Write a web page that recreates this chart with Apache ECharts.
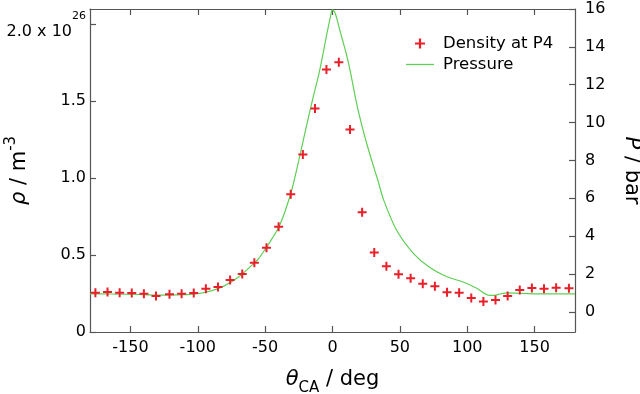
<!DOCTYPE html>
<html>
<head>
<meta charset="utf-8">
<script src="https://cdn.jsdelivr.net/npm/echarts@6/dist/echarts.min.js"></script>
<style>html,body{margin:0;padding:0;background:#fff}#c{width:640px;height:394px}</style>
</head>
<body>
<div id="c"></div>
<script>
// Crank angle of density samples (deg)
var densityAngle = [-176,-167,-158,-149,-140,-131,-121,-112,-103,-94,-85,-76,-67,-58,-49,-40,-31,-22,-13,-4.5,4.7,13,22,31,40,49,58,67,76,85,94,103,112,121,130,139,148,157,166,175.5];
// Density at P4 (x 10^26 m^-3)
var densityValue = [0.255,0.26,0.255,0.253,0.249,0.234,0.245,0.249,0.253,0.281,0.292,0.338,0.377,0.45,0.547,0.684,0.896,1.154,1.453,1.706,1.753,1.316,0.779,0.517,0.427,0.375,0.349,0.314,0.297,0.258,0.255,0.221,0.199,0.208,0.234,0.273,0.286,0.281,0.288,0.284];
// Pressure curve (deg, bar)
var pressureAngle = [-180,-170,-160,-150,-140,-130,-120,-110,-100,-90,-80,-70,-60,-55,-50,-45,-40,-35,-30,-25,-20,-15,-10,-7,-5,-3,-1.5,0,1.5,3,5,7.5,10,12,14,16.5,19,24,29,34,38,47.5,60,72,85,97,107,115.5,120,125,130,140,150,165,180];
var pressureValue = [0.94,0.95,0.93,0.92,0.9,0.88,0.88,0.9,0.95,1.1,1.38,1.82,2.45,2.8,3.3,3.85,4.45,5.35,6.5,8.0,9.6,11.15,12.6,13.65,14.4,15.1,15.6,15.95,15.85,15.55,15.0,14.35,13.7,13.1,12.42,11.5,10.66,9.25,8.02,6.87,5.9,4.32,3.09,2.35,1.85,1.57,1.24,0.88,0.87,0.95,1.0,0.97,0.95,0.94,0.94];
var xTicks = [-150,-100,-50,0,50,100,150];
var leftTicks = [0,0.5,1.0,1.5,2.0];
var rightTicks = [0,2,4,6,8,10,12,14,16];

var FONT = '"DejaVu Sans", Verdana, sans-serif';
var AX = '#555';
var densityData = densityAngle.map(function(a,i){return [a, densityValue[i]];});
var pressureData = pressureAngle.map(function(a,i){return [a, pressureValue[i]];});
var plus = 'path://M3.5,0H5.5V3.5H9V5.5H5.5V9H3.5V5.5H0V3.5H3.5Z';
var dash = 'path://M0,0H28V1.3H0Z';

var chart = echarts.init(document.getElementById('c'), null, {renderer:'canvas'});
function tick(vals){return {show:true,inside:true,length:6,lineStyle:{color:AX,width:1.2},customValues:vals};}
var line = {show:true,onZero:false,lineStyle:{color:AX,width:1.2}};
var TS = 21;
chart.setOption({
  animation:false,
  backgroundColor:'#fff',
  textStyle:{fontFamily:FONT},
  grid:{left:90,right:65,top:9,bottom:62,containLabel:false,outerBoundsMode:'none'},
  legend:{
    orient:'vertical', left:401, top:30, itemWidth:28, itemHeight:10, itemGap:4,
    textStyle:{fontSize:16.5,color:'#000',fontFamily:FONT,padding:[0,0,0,4]},
    data:[{name:'Density at P4',icon:plus},{name:'Pressure',icon:dash}]
  },
  xAxis:[
    {
      type:'value', min:-180, max:180, position:'bottom',
      axisLine:line, splitLine:{show:false}, axisTick:tick(xTicks),
      axisLabel:{customValues:xTicks,color:'#000',fontSize:16,margin:8,fontFamily:FONT},
      name:'{i|θ}{sub|CA} / deg', nameLocation:'middle', nameGap:32, nameMoveOverlap:false,
      nameTextStyle:{fontSize:TS,color:'#000',fontFamily:FONT,
        rich:{i:{fontStyle:'italic',fontSize:TS,color:'#000',fontFamily:FONT,lineHeight:22,verticalAlign:'middle'},
              sub:{fontSize:15,color:'#000',fontFamily:FONT,lineHeight:32,verticalAlign:'bottom'}}}
    },
    {
      type:'value', min:-180, max:180, position:'top',
      axisLine:line, splitLine:{show:false}, axisTick:tick(xTicks),
      axisLabel:{show:false}
    }
  ],
  yAxis:[
    {
      type:'value', min:0, max:2.1, position:'left',
      axisLine:line, splitLine:{show:false}, axisTick:tick(leftTicks),
      axisLabel:{customValues:leftTicks,color:'#000',fontSize:16,margin:4,fontFamily:FONT,
        formatter:function(v){
          if (v===0) return '0';
          if (Math.abs(v-2)<1e-9) return '{sup|26}\n{m|2.0 x 10}';
          return v.toFixed(1);
        },
        rich:{m:{fontSize:16,color:'#000',fontFamily:FONT,lineHeight:16,padding:[0,14,0,0]},
              sup:{fontSize:11,color:'#000',fontFamily:FONT,lineHeight:14}}},
      name:'{i|ρ} / m{sup|-3}', nameLocation:'middle', nameGap:54, nameMoveOverlap:false,
      nameTextStyle:{fontSize:TS,color:'#000',fontFamily:FONT,
        rich:{i:{fontStyle:'italic',fontSize:TS,color:'#000',fontFamily:FONT,lineHeight:22,verticalAlign:'middle'},
              sup:{fontSize:15,color:'#000',fontFamily:FONT,lineHeight:32,verticalAlign:'top'}}}
    },
    {
      type:'value', min:-1.07, max:16, position:'right',
      axisLine:line, splitLine:{show:false}, axisTick:tick(rightTicks),
      axisLabel:{customValues:rightTicks,color:'#000',fontSize:16,margin:10,fontFamily:FONT},
      name:'{i|P} / bar', nameLocation:'middle', nameGap:46, nameRotate:-90, nameMoveOverlap:false,
      nameTextStyle:{fontSize:TS,color:'#000',fontFamily:FONT,
        rich:{i:{fontStyle:'italic',fontSize:TS,color:'#000',fontFamily:FONT}}}
    }
  ],
  series:[
    {name:'Pressure', type:'line', xAxisIndex:0, yAxisIndex:1, data:pressureData,
     smooth:0.3, showSymbol:false, symbol:'none', z:2,
     lineStyle:{color:'#5fcf55',width:1.2}, itemStyle:{color:'#5fcf55'}},
    {name:'Density at P4', type:'scatter', xAxisIndex:0, yAxisIndex:0, data:densityData,
     symbol:plus, symbolSize:9, z:3, itemStyle:{color:'#e8202a',opacity:1}}
  ]
});
</script>
</body>
</html>
